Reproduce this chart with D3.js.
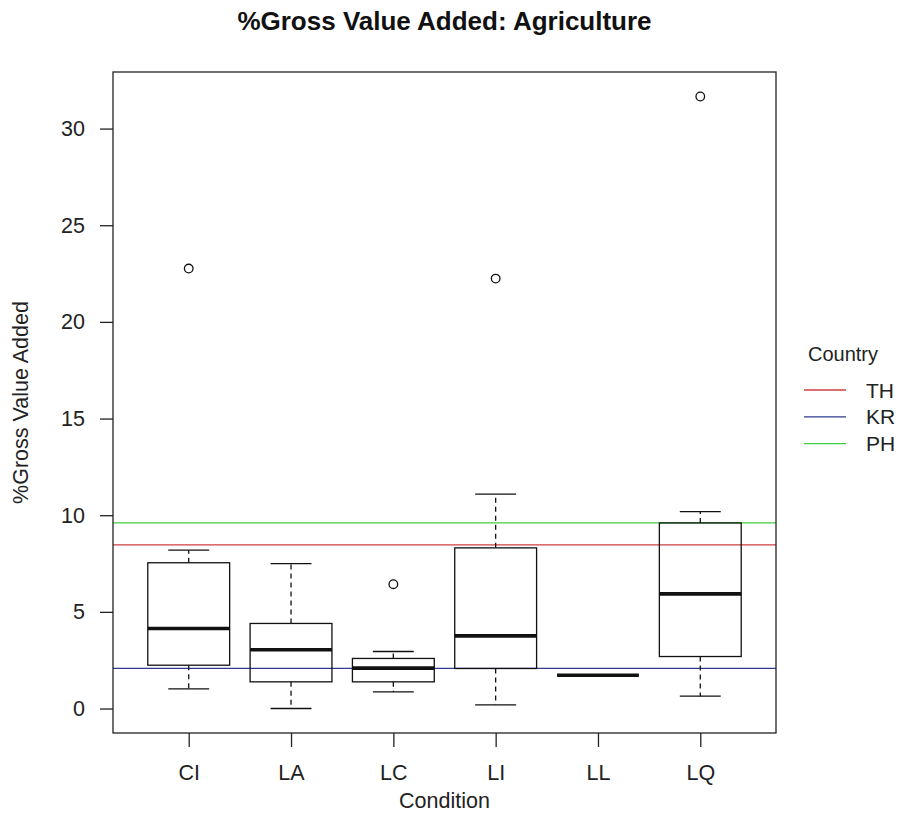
<!DOCTYPE html>
<html>
<head>
<meta charset="utf-8">
<script src="https://cdn.jsdelivr.net/npm/d3@7/dist/d3.min.js"></script>
<style>
  html, body { margin: 0; padding: 0; background: #fff; }
  svg { display: block; font-family: "Liberation Sans", Arial, sans-serif; }
</style>
</head>
<body>
<svg id="chart" width="897" height="840"></svg>
<script>
// Box-plot summaries per condition
const categories = ["CI", "LA", "LC", "LI", "LL", "LQ"];
const whiskerLow  = [1.02, 0.00, 0.86, 0.19, 1.72, 0.64];
const quartile1   = [2.24, 1.38, 1.38, 2.07, 1.72, 2.69];
const medians     = [4.14, 3.04, 2.09, 3.76, 1.72, 5.93];
const quartile3   = [7.54, 4.40, 2.59, 8.31, 1.72, 9.60];
const whiskerHigh = [8.19, 7.50, 2.95, 11.09, 1.72, 10.19];
const outliers    = [[22.76], [], [6.43], [22.24], [], [31.66]];

// Country reference levels
const countries = ["TH", "KR", "PH"];
const countryValues = [8.47, 2.08, 9.60];
const countryColors = ["#cf3f3f", "#2f3b8f", "#3fcf3f"];

const yTicks = [0, 5, 10, 15, 20, 25, 30];

const svg = d3.select("#chart");
const plot = { left: 113, right: 776, top: 72, bottom: 733 };

// R-style 4% axis expansion
const allVals = whiskerLow.concat(whiskerHigh, outliers.flat(), quartile1, quartile3);
const yMin = d3.min(allVals), yMax = d3.max(allVals);
const yPad = (yMax - yMin) * 0.04;
const y = d3.scaleLinear().domain([yMin - yPad, yMax + yPad]).range([plot.bottom, plot.top]);

const n = categories.length;
const xPad = n * 0.04;
const x = d3.scaleLinear().domain([0.5 - xPad, n + 0.5 + xPad]).range([plot.left, plot.right]);
const unit = x(1) - x(0);
const boxW = 0.8 * unit;
const capW = boxW / 2;

const rows = categories.map((c, i) => ({
  c, i, pos: i + 1,
  lo: whiskerLow[i], q1: quartile1[i], med: medians[i], q3: quartile3[i], hi: whiskerHigh[i],
  out: outliers[i]
}));

// Country reference lines
const refG = svg.append("g");
countries.forEach((c, k) => {
  refG.append("line")
    .attr("x1", plot.left).attr("x2", plot.right)
    .attr("y1", y(countryValues[k])).attr("y2", y(countryValues[k]))
    .attr("stroke", countryColors[k]).attr("stroke-width", 1.3);
});

// Boxes
const boxG = svg.append("g").attr("stroke", "#111").attr("fill", "none");
rows.forEach(d => {
  const cx = x(d.pos);
  const g = boxG.append("g");
  // whiskers
  g.append("line").attr("x1", cx).attr("x2", cx).attr("y1", y(d.q3)).attr("y2", y(d.hi))
    .attr("stroke-width", 1.3).attr("stroke-dasharray", "5,4");
  g.append("line").attr("x1", cx).attr("x2", cx).attr("y1", y(d.q1)).attr("y2", y(d.lo))
    .attr("stroke-width", 1.3).attr("stroke-dasharray", "5,4");
  // staples
  g.append("line").attr("x1", cx - capW / 2).attr("x2", cx + capW / 2)
    .attr("y1", y(d.hi)).attr("y2", y(d.hi)).attr("stroke-width", 1.3);
  g.append("line").attr("x1", cx - capW / 2).attr("x2", cx + capW / 2)
    .attr("y1", y(d.lo)).attr("y2", y(d.lo)).attr("stroke-width", 1.3);
  // box
  g.append("rect").attr("x", cx - boxW / 2).attr("width", boxW)
    .attr("y", y(d.q3)).attr("height", Math.max(0, y(d.q1) - y(d.q3)))
    .attr("stroke-width", 1.3);
  // median
  g.append("line").attr("x1", cx - boxW / 2).attr("x2", cx + boxW / 2)
    .attr("y1", y(d.med)).attr("y2", y(d.med)).attr("stroke-width", 3.6);
  // outliers
  d.out.forEach(v => {
    g.append("circle").attr("cx", cx).attr("cy", y(v)).attr("r", 4.3)
      .attr("stroke-width", 1.3).attr("fill", "#fff");
  });
});

// Frame
svg.append("rect")
  .attr("x", plot.left).attr("y", plot.top)
  .attr("width", plot.right - plot.left).attr("height", plot.bottom - plot.top)
  .attr("fill", "none").attr("stroke", "#222").attr("stroke-width", 1.3);

// Y axis
const yAxis = svg.append("g").attr("transform", `translate(${plot.left},0)`)
  .call(d3.axisLeft(y).tickValues(yTicks).tickSize(13).tickPadding(15).tickFormat(d3.format("d")));
yAxis.select(".domain").remove();
yAxis.selectAll("line").attr("stroke", "#222").attr("stroke-width", 1.3);
yAxis.selectAll("text").attr("font-size", 21.5).attr("fill", "#222")
  .attr("font-family", "'Liberation Sans', Arial, sans-serif");

// X axis
const xAxis = svg.append("g").attr("transform", `translate(0,${plot.bottom})`)
  .call(d3.axisBottom(x).tickValues(d3.range(1, n + 1)).tickSize(14).tickPadding(18)
    .tickFormat(p => categories[p - 1]));
xAxis.select(".domain").remove();
xAxis.selectAll("line").attr("stroke", "#222").attr("stroke-width", 1.3);
xAxis.selectAll("text").attr("font-size", 21.5).attr("fill", "#222")
  .attr("font-family", "'Liberation Sans', Arial, sans-serif");

// Titles
svg.append("text").attr("x", (plot.left + plot.right) / 2).attr("y", 30)
  .attr("text-anchor", "middle").attr("font-size", 26).attr("font-weight", "bold")
  .attr("fill", "#111").text("%Gross Value Added: Agriculture");

svg.append("text").attr("x", (plot.left + plot.right) / 2).attr("y", 808)
  .attr("text-anchor", "middle").attr("font-size", 21.5).attr("fill", "#222")
  .text("Condition");

svg.append("text")
  .attr("transform", `translate(28,${(plot.top + plot.bottom) / 2}) rotate(-90)`)
  .attr("text-anchor", "middle").attr("font-size", 21.5).attr("fill", "#222")
  .text("%Gross Value Added");

// Legend
const leg = svg.append("g");
leg.append("text").attr("x", 808).attr("y", 361).attr("font-size", 20).attr("fill", "#222")
  .text("Country");
countries.forEach((c, k) => {
  const ly = 390 + k * 26.8;
  leg.append("line").attr("x1", 804).attr("x2", 846).attr("y1", ly).attr("y2", ly)
    .attr("stroke", countryColors[k]).attr("stroke-width", 1.3);
  leg.append("text").attr("x", 866).attr("y", ly).attr("dy", "0.36em")
    .attr("font-size", 21).attr("fill", "#222").text(c);
});
</script>
</body>
</html>
